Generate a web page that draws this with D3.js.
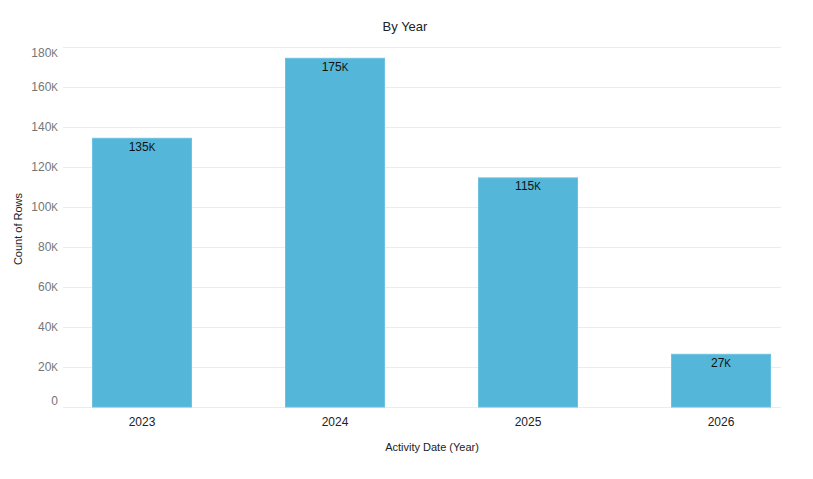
<!DOCTYPE html>
<html lang="en">
<head>
    <meta charset="UTF-8">
    <title>By Year</title>
    <style>
        body { margin: 0; background: #fff; }
        svg { font-family: "Liberation Sans", Arial, sans-serif; }
        .grid line { stroke: #e9edf1; stroke-width: 1px; }
        .ytick { fill: #757575; font-size: 12px; text-anchor: end; }
        .xtick { fill: #222; font-size: 12px; text-anchor: middle; }
        .bar { fill: #54b6d9; stroke: #6cc2e0; stroke-width: 1px; }
        .value { fill: #111; font-size: 12px; text-anchor: middle; }
        .title { fill: #222; font-size: 13px; text-anchor: middle; }
        .axis-title { fill: #222; font-size: 11px; text-anchor: middle; }
    </style>
</head>
<body>
    <script src="https://d3js.org/d3.v7.min.js"></script>
    <script>
        const years = ["2023", "2024", "2025", "2026"];
        const counts = [134600, 174600, 114800, 26600];
        const yTicks = [0, 20000, 40000, 60000, 80000, 100000, 120000, 140000, 160000, 180000];

        const width = 813;
        const height = 479;
        const plot = { left: 63, right: 781, top: 47, bottom: 407 };

        // K is drawn smaller, as in the source chart
        function kLabel(sel, v) {
            if (v === 0) { sel.text("0"); return; }
            sel.text(Math.round(v / 1000));
            sel.append("tspan").attr("font-size", "10px").text("K");
        }

        const x = d3.scaleBand()
            .domain(years)
            .range([72.5, 790.5])
            .paddingInner(0.482)
            .paddingOuter(0.101);

        const y = d3.scaleLinear()
            .domain([0, 180000])
            .range([plot.bottom, plot.top]);

        const svg = d3.select("body").append("svg")
            .attr("width", width)
            .attr("height", height);

        svg.append("g")
            .attr("class", "grid")
            .selectAll("line")
            .data(yTicks)
            .join("line")
            .attr("x1", plot.left)
            .attr("x2", plot.right)
            .attr("y1", d => Math.round(y(d)) + 0.5)
            .attr("y2", d => Math.round(y(d)) + 0.5);

        // end labels are pulled inside the plot area
        svg.append("g")
            .selectAll("text")
            .data(yTicks)
            .join("text")
            .attr("class", "ytick")
            .attr("x", 58)
            .attr("y", d => Math.min(Math.max(y(d), plot.top + 6), plot.bottom - 6))
            .attr("dy", "0.35em")
            .each(function (d) { kLabel(d3.select(this), d); });

        const data = years.map((yr, i) => ({ year: yr, value: counts[i] }));

        svg.append("g")
            .selectAll("rect")
            .data(data)
            .join("rect")
            .attr("class", "bar")
            .attr("x", d => x(d.year) + 0.5)
            .attr("y", d => y(d.value) + 0.5)
            .attr("width", x.bandwidth() - 1)
            .attr("height", d => y(0) - y(d.value) - 0.5);

        svg.append("g")
            .selectAll("text")
            .data(data)
            .join("text")
            .attr("class", "value")
            .attr("x", d => x(d.year) + x.bandwidth() / 2)
            .attr("y", d => y(d.value) + 13)
            .each(function (d) { kLabel(d3.select(this), d.value); });

        svg.append("g")
            .selectAll("text")
            .data(years)
            .join("text")
            .attr("class", "xtick")
            .attr("x", d => x(d) + x.bandwidth() / 2)
            .attr("y", 426)
            .text(d => d);

        svg.append("text")
            .attr("class", "title")
            .attr("x", 405)
            .attr("y", 31)
            .text("By Year");

        svg.append("text")
            .attr("class", "axis-title")
            .attr("x", 432)
            .attr("y", 451)
            .text("Activity Date (Year)");

        svg.append("text")
            .attr("class", "axis-title")
            .attr("transform", "translate(22,229) rotate(-90)")
            .text("Count of Rows");
    </script>
</body>
</html>
